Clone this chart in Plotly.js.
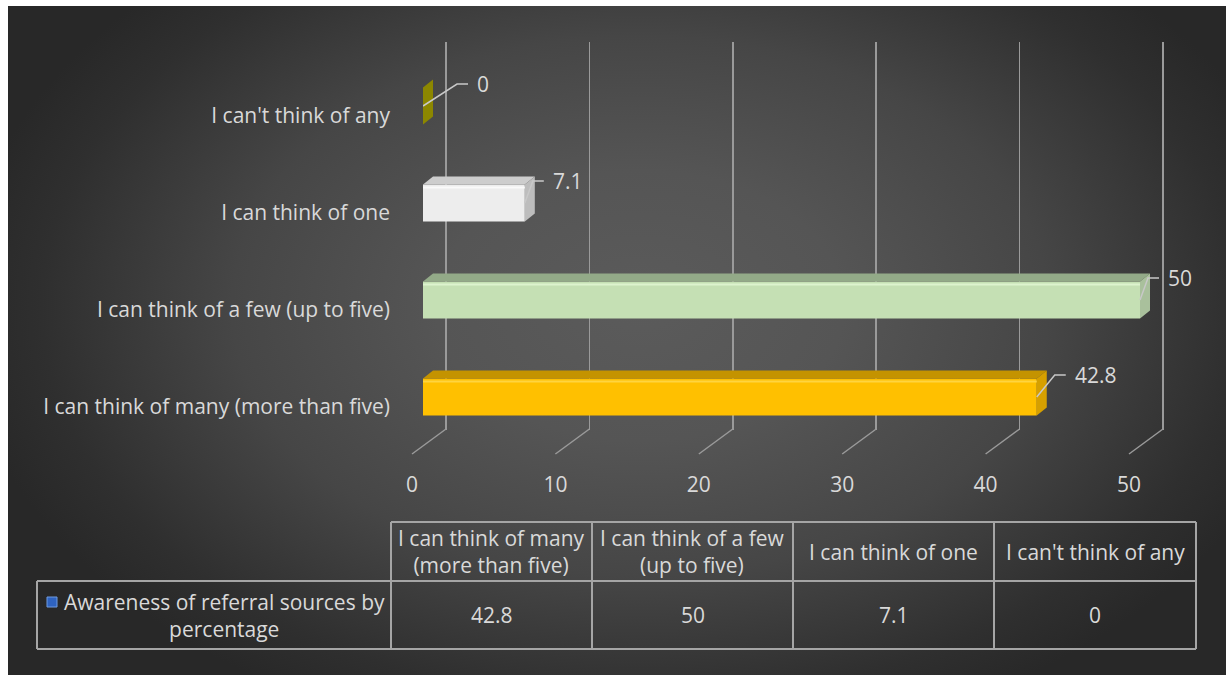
<!DOCTYPE html>
<html><head><meta charset="utf-8">
<script src="https://cdn.plot.ly/plotly-3.0.1.min.js"></script>
<style>
html,body{margin:0;padding:0;background:#fff;}
#wrap{position:relative;width:1226px;height:675px;overflow:hidden;background:#fff;}
#bg{position:absolute;left:8px;top:6px;right:0;bottom:0;
 background:radial-gradient(ellipse 680px 450px at 632px 300px,#5b5b5b 0%,#555555 30%,#464646 60%,#2f2f2f 88%,#282828 100%);}
#chart{position:absolute;left:0;top:0;width:1226px;height:675px;}
</style></head><body>
<div id="wrap"><div id="bg"></div><div id="chart"></div></div>
<script>
// ---- data ----
const categories = ["I can think of many (more than five)", "I can think of a few (up to five)", "I can think of one", "I can't think of any"];
const values = [42.8, 50, 7.1, 0];
const xTicks = [0, 10, 20, 30, 40, 50];
const seriesName = "Awareness of referral sources by percentage";

// ---- styling ----
const frontColors = ["#FFC000", "#C5E0B4", "#EDEDED", "#827D00"];
const topColors = ["#C49300", "#93AA88", "#CDCDCD", "#5E5A00"];
const endColors = ["#D6A000", "#A9C09C", "#BDBDBD", "#8C8700"];
const hiColors = ["#FFD43F", "#DDF3CE", "#FAFAFA", "#8F8A10"];
const leaderDxPx = [18, 8, 8, 34];
const W = 1226, H = 675;
const FONT = '"Open Sans", Lato, sans-serif';
const FS = 21;
const TXT = '#d9d9d9';
const unitX = (1140 - 423) / 50;   // px per value unit (bars)
const unitY = 97;                  // px per category
const depthX = 10 / unitX, depthY = 8 / unitY, halfH = 18.5 / unitY;
const fx = p => p / W, fy = p => 1 - p / H;

const traces = [];
// front faces
traces.push({type:'bar', orientation:'h', x: values, y: categories.map((c,i)=>i),
  width: 2*halfH, marker:{color: frontColors, line:{width:0}}, xaxis:'x2', yaxis:'y2',
  hoverinfo:'skip', showlegend:false});
values.forEach((v,i)=>{
  // top face
  traces.push({type:'scatter', mode:'lines', fill:'toself', fillcolor: topColors[i], line:{width:0, color: topColors[i]},
    x:[0, v, v+depthX, depthX, 0], y:[i+halfH, i+halfH, i+halfH+depthY, i+halfH+depthY, i+halfH],
    xaxis:'x2', yaxis:'y2', hoverinfo:'skip', showlegend:false});
  // end face
  traces.push({type:'scatter', mode:'lines', fill:'toself', fillcolor: endColors[i], line:{width:0, color: endColors[i]},
    x:[v, v+depthX, v+depthX, v, v], y:[i+halfH, i+halfH+depthY, i-halfH+depthY, i-halfH, i+halfH],
    xaxis:'x2', yaxis:'y2', hoverinfo:'skip', showlegend:false});
  // highlight
  if (v > 0) traces.push({type:'scatter', mode:'lines', line:{width:2, color: hiColors[i]},
    x:[0, v], y:[i+halfH-3/unitY, i+halfH-3/unitY], xaxis:'x2', yaxis:'y2', hoverinfo:'skip', showlegend:false});
  // leader line
  const ex = v + leaderDxPx[i]/unitX, ey = i + 22/unitY;
  traces.push({type:'scatter', mode:'lines', line:{width:1.5, color:'#c8c8c8'},
    x:[v, ex, ex + 11/unitX], y:[i, ey, ey], xaxis:'x2', yaxis:'y2', hoverinfo:'skip', showlegend:false});
});
// dummy for tick-label axis
traces.push({type:'scatter', x:[], y:[], xaxis:'x3', yaxis:'y', showlegend:false, hoverinfo:'skip'});

const annotations = [];
values.forEach((v,i)=>{
  const ex = v + (leaderDxPx[i] + 11 + 7)/unitX;
  annotations.push({xref:'x2', yref:'y2', x: ex, y: i + 22/unitY, text: String(v), showarrow:false,
    xanchor:'left', yanchor:'middle', font:{family:FONT, size:FS, color:TXT}});
});

// table
const colX = [391, 592, 793, 994, 1196];
const rowY = [522, 581, 649];
const shapes = [];
const lc = '#a5a5a5';
shapes.push({type:'line', xref:'paper', yref:'paper', x0:fx(colX[0]), x1:fx(colX[4]), y0:fy(rowY[0]), y1:fy(rowY[0]), line:{color:lc, width:2}});
shapes.push({type:'line', xref:'paper', yref:'paper', x0:fx(37), x1:fx(colX[4]), y0:fy(rowY[1]), y1:fy(rowY[1]), line:{color:lc, width:2}});
shapes.push({type:'line', xref:'paper', yref:'paper', x0:fx(37), x1:fx(colX[4]), y0:fy(rowY[2]), y1:fy(rowY[2]), line:{color:lc, width:2}});
shapes.push({type:'line', xref:'paper', yref:'paper', x0:fx(37), x1:fx(37), y0:fy(rowY[1]), y1:fy(rowY[2]), line:{color:lc, width:2}});
colX.forEach(cx=>shapes.push({type:'line', xref:'paper', yref:'paper', x0:fx(cx), x1:fx(cx), y0:fy(rowY[0]), y1:fy(rowY[2]), line:{color:lc, width:2}}));
// legend key
shapes.push({type:'rect', xref:'paper', yref:'paper', x0:fx(47), x1:fx(57), y0:fy(607), y1:fy(597), fillcolor:'#2f63c0', line:{color:'#6f9be0', width:1}});

categories.forEach((c,i)=>{
  annotations.push({xref:'paper', yref:'paper', x: fx((colX[i]+colX[i+1])/2), y: fy((rowY[0]+rowY[1])/2),
    text: c.replace(' (', '<br>('), showarrow:false, xanchor:'center', yanchor:'middle',
    font:{family:FONT, size:FS, color:TXT}});
  annotations.push({xref:'paper', yref:'paper', x: fx((colX[i]+colX[i+1])/2), y: fy((rowY[1]+rowY[2])/2),
    text: String(values[i]), showarrow:false, xanchor:'center', yanchor:'middle',
    font:{family:FONT, size:FS, color:TXT}});
});
annotations.push({xref:'paper', yref:'paper', x: fx(224), y: fy((rowY[1]+rowY[2])/2),
  text: seriesName.replace(' percentage', '<br>percentage'), showarrow:false, xanchor:'center', yanchor:'middle',
  font:{family:FONT, size:FS, color:TXT}});

// floor diagonals
xTicks.forEach(t=>shapes.push({type:'line', xref:'x', xsizemode:'pixel', xanchor:t, x0:0, x1:-34,
  yref:'paper', y0:fy(429), y1:fy(454), line:{color:'#9a9a9a', width:1.5}, layer:'below'}));

const padL = 3, padR = 0.2;
const layout = {
  width: W, height: H, margin:{l:0, r:0, t:0, b:0},
  paper_bgcolor:'rgba(0,0,0,0)', plot_bgcolor:'rgba(0,0,0,0)',
  showlegend:false, font:{family:FONT, color:TXT},
  // gridline axis (back wall)
  xaxis:{domain:[fx(446 - padL*unitX), fx(1163 + padR*unitX)], range:[-padL, 50+padR], anchor:'y',
    tickvals:xTicks, showticklabels:false, ticks:'', showgrid:true, gridcolor:'#9a9a9a', gridwidth:1.5,
    zeroline:false, showline:false, fixedrange:true},
  yaxis:{domain:[fy(430), fy(42)], range:[0,1], visible:false, fixedrange:true},
  // bar axes
  xaxis2:{domain:[fx(423), fx(423 + 52*unitX)], range:[0,52], anchor:'y2', visible:false, fixedrange:true},
  yaxis2:{domain:[fy(445.5), fy(57.5)], range:[-0.5, 3.5], anchor:'x2',
    tickvals: categories.map((c,i)=>i - 10/unitY), ticktext: categories,
    ticks:'', ticklabelstandoff: 32, showgrid:false, zeroline:false, showline:false,
    tickfont:{family:FONT, size:FS, color:TXT}, fixedrange:true},
  // tick label axis (front floor edge)
  xaxis3:{domain:[fx(412), fx(1129)], range:[0,50], anchor:'free', position: fy(470),
    tickvals:xTicks, ticks:'', showgrid:false, zeroline:false, showline:false,
    tickfont:{family:FONT, size:FS, color:TXT}, fixedrange:true},
  shapes: shapes, annotations: annotations
};
Plotly.newPlot('chart', traces, layout, {displayModeBar:false, staticPlot:true});
</script>
</body></html>
